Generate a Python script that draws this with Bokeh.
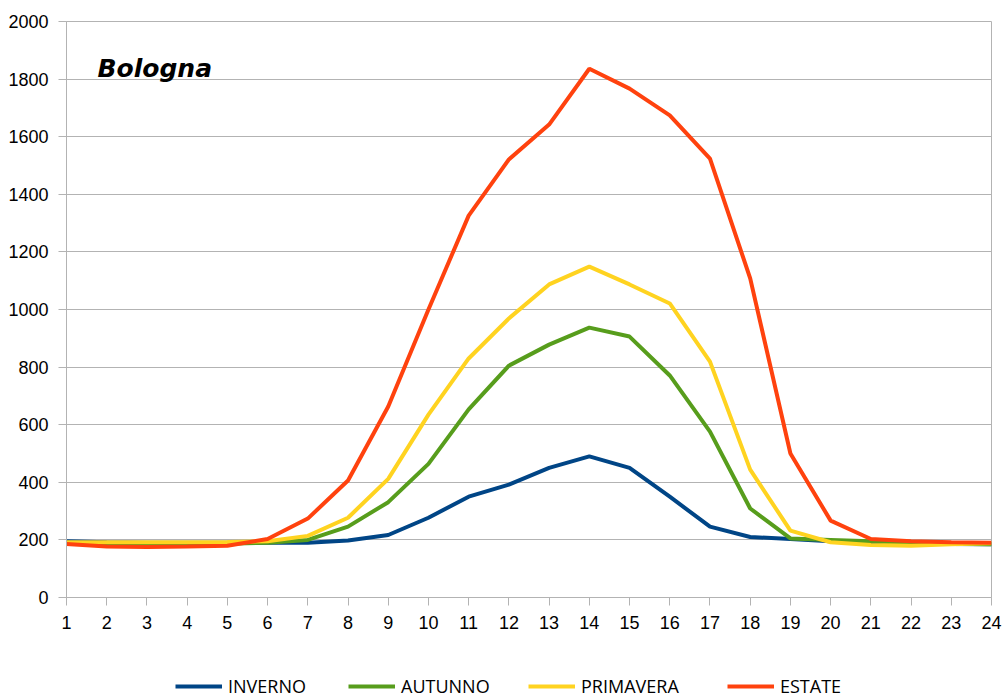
from bokeh.plotting import figure
from bokeh.layouts import column
from bokeh.models import (Range1d, FixedTicker, Legend, LegendItem, Label)
from bokeh.embed import file_html
from bokeh.resources import INLINE

hours = list(range(1, 25))
x_ticks = list(range(1, 25))
y_ticks = [0, 200, 400, 600, 800, 1000, 1200, 1400, 1600, 1800, 2000]

inverno = [195, 192, 190, 190, 190, 190, 190, 198, 217, 277, 350, 392, 450, 490, 450, 350, 246, 210, 203, 195, 190, 188, 186, 185]
autunno = [190, 188, 186, 186, 187, 190, 200, 246, 331, 464, 653, 805, 878, 937, 906, 771, 576, 309, 205, 200, 195, 190, 187, 185]
primavera = [192, 192, 192, 192, 193, 195, 214, 277, 412, 635, 830, 969, 1087, 1149, 1087, 1021, 819, 444, 232, 192, 182, 180, 185, 188]
estate = [186, 177, 175, 177, 180, 203, 274, 406, 663, 1000, 1326, 1521, 1642, 1836, 1767, 1674, 1524, 1108, 500, 267, 203, 195, 192, 190]

series_names = ["INVERNO", "AUTUNNO", "PRIMAVERA", "ESTATE"]
series_values = [inverno, autunno, primavera, estate]
series_colors = ["#004586", "#579d1c", "#ffd320", "#ff420e"]
title_text = "Bologna"

GRID = "#b3b3b3"

p = figure(width=1003, height=650, output_backend="svg", toolbar_location=None,
           x_range=Range1d(1, 24), y_range=Range1d(0, 2000),
           min_border_left=66, min_border_right=12, min_border_top=21, min_border_bottom=53)
p.background_fill_color = "white"
p.border_fill_color = "white"
p.outline_line_color = GRID
p.outline_line_width = 1

p.xgrid.grid_line_color = None
p.ygrid.grid_line_color = GRID
p.ygrid.grid_line_width = 1

for ax in (p.xaxis[0], p.yaxis[0]):
    ax.axis_line_color = GRID
    ax.major_tick_line_color = GRID
    ax.major_tick_out = 8
    ax.major_tick_in = 0
    ax.minor_tick_line_color = None
    ax.major_label_text_font = "Liberation Sans"
    ax.major_label_text_font_size = "18px"
    ax.major_label_text_color = "black"

p.xaxis[0].ticker = FixedTicker(ticks=x_ticks)
p.yaxis[0].ticker = FixedTicker(ticks=y_ticks)
p.xaxis[0].major_label_standoff = 10
p.yaxis[0].major_label_standoff = 10

for name, vals, col in zip(series_names, series_values, series_colors):
    p.line(hours, vals, line_color=col, line_width=4)

p.add_layout(Label(x=31, y=529, x_units="screen", y_units="screen", text=title_text,
                   text_font="DejaVu Sans", text_font_style="bold italic",
                   text_font_size="25px", text_color="black",
                   text_baseline="alphabetic"))

# legend strip below the chart (its lines lie outside its own ranges; only the legend shows)
lf = figure(width=1003, height=48, output_backend="svg", toolbar_location=None,
            x_range=Range1d(-10, -9), y_range=Range1d(-10, -9),
            x_axis_location=None, y_axis_location=None,
            min_border_left=0, min_border_right=0, min_border_top=0, min_border_bottom=0)
lf.grid.visible = False
lf.outline_line_color = None
lf.background_fill_color = "white"
lf.border_fill_color = "white"

legend_x = [175, 348, 528, 727]
for name, vals, col, lx in zip(series_names, series_values, series_colors, legend_x):
    r = lf.line(hours, vals, line_color=col, line_width=4)
    lg = Legend(items=[LegendItem(label=name, renderers=[r])],
                location=(lx - 66, 0), orientation="horizontal",
                glyph_width=47, glyph_height=20, label_height=20,
                label_standoff=6, padding=0, margin=0, spacing=0,
                label_text_font="Open Sans", label_text_font_size="18px",
                label_text_color="black",
                background_fill_alpha=0, border_line_color=None)
    lf.add_layout(lg, "center")

layout = column(p, lf, spacing=0)
open("out.html", "w").write(file_html(layout, INLINE))
